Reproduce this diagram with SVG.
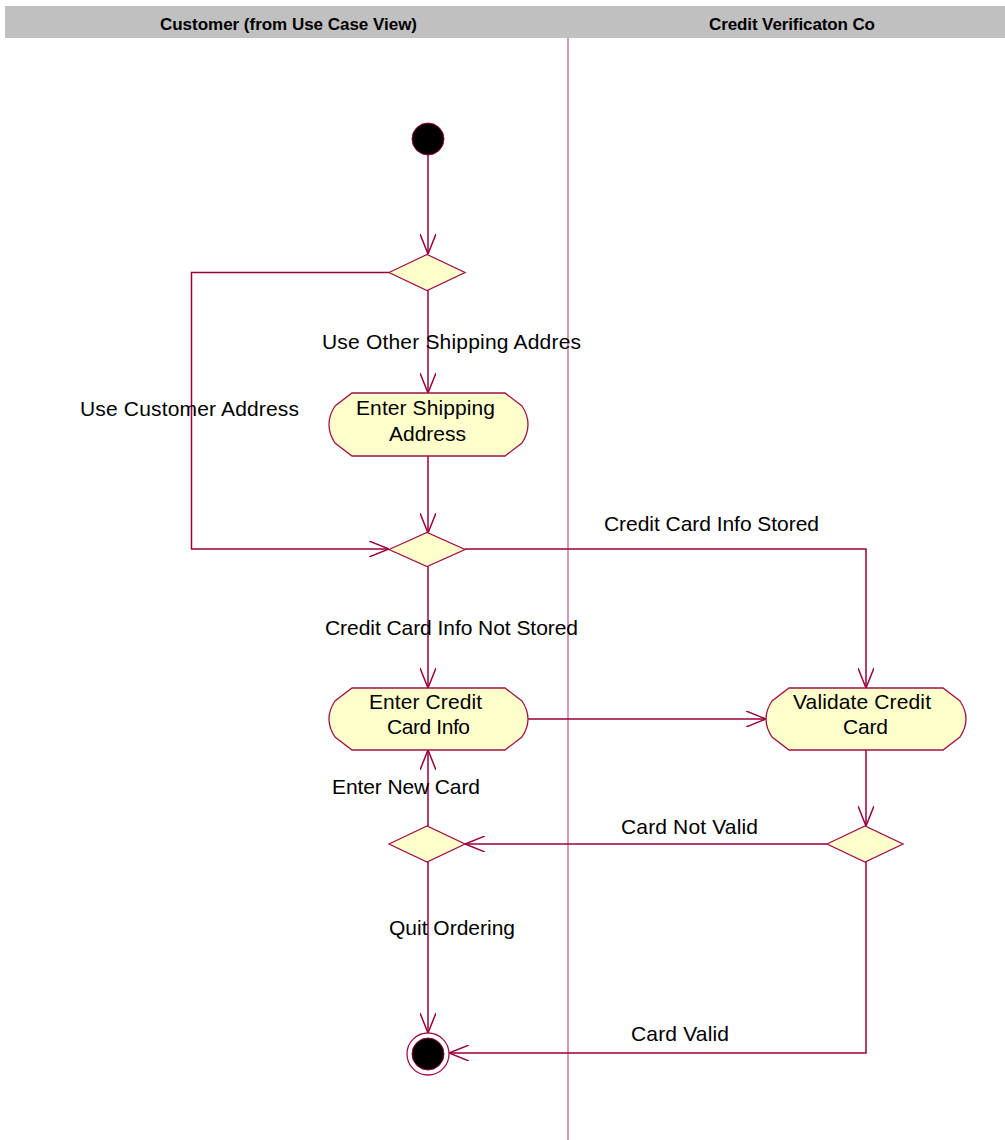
<svg xmlns="http://www.w3.org/2000/svg" width="1005" height="1140" viewBox="0 0 1005 1140">
  <style>
    .lane { fill: #c0c0c0; }
    .laneTitle { font-family: "Liberation Sans", Arial, sans-serif; font-weight: bold; font-size: 17px; fill: #000; }
    .divider { stroke: #cc7799; stroke-width: 1.5; fill: none; }
    .flow { stroke: #99003a; stroke-width: 1.5; fill: none; }
    .node { fill: #ffffcc; stroke: #a0104a; stroke-width: 1.3; }
    .label { font-family: "Liberation Sans", Arial, sans-serif; font-size: 21px; fill: #000; }
  </style>
  <defs>
    <marker id="open" viewBox="0 0 20 16" refX="20" refY="8" markerWidth="20" markerHeight="16" markerUnits="userSpaceOnUse" orient="auto">
      <path d="M0,0 L20,8 L0,16" fill="none" stroke="#99003a" stroke-width="1.5"/>
    </marker>
  </defs>

  <rect width="1005" height="1140" fill="#ffffff"/>

  <!-- swimlane headers -->
  <g id="lanes">
    <rect class="lane" x="5" y="6" width="1000" height="32"/>
    <text class="laneTitle" x="160" y="30" textLength="257" lengthAdjust="spacing">Customer (from Use Case View)</text>
    <text class="laneTitle" x="709" y="30" textLength="166" lengthAdjust="spacing">Credit Verificaton Co</text>
    <line class="divider" x1="568" y1="38" x2="568" y2="1140"/>
  </g>

  <!-- transitions -->
  <g id="connectors">
    <path class="flow" d="M428,155 V254" marker-end="url(#open)"/>
    <path class="flow" d="M428,290 V393" marker-end="url(#open)"/>
    <path class="flow" d="M428,456 V533" marker-end="url(#open)"/>
    <path class="flow" d="M389,272.5 H191.5 V549 H389" marker-end="url(#open)"/>
    <path class="flow" d="M465,549 H866 V688" marker-end="url(#open)"/>
    <path class="flow" d="M428,566 V688" marker-end="url(#open)"/>
    <path class="flow" d="M528,719 H766" marker-end="url(#open)"/>
    <path class="flow" d="M866,750 V826" marker-end="url(#open)"/>
    <path class="flow" d="M827,844 H465" marker-end="url(#open)"/>
    <path class="flow" d="M428,826 V750" marker-end="url(#open)"/>
    <path class="flow" d="M428,862 V1033" marker-end="url(#open)"/>
    <path class="flow" d="M866,862 V1053 H449" marker-end="url(#open)"/>

    <text class="label" x="80" y="416" textLength="219" lengthAdjust="spacing">Use Customer Address</text>
    <text class="label" x="322" y="349" textLength="259" lengthAdjust="spacing">Use Other Shipping Addres</text>
    <text class="label" x="604" y="531" textLength="215" lengthAdjust="spacing">Credit Card Info Stored</text>
    <text class="label" x="325" y="635" textLength="253" lengthAdjust="spacing">Credit Card Info Not Stored</text>
    <text class="label" x="332" y="794" textLength="148" lengthAdjust="spacing">Enter New Card</text>
    <text class="label" x="621" y="834" textLength="137" lengthAdjust="spacing">Card Not Valid</text>
    <text class="label" x="389" y="935" textLength="126" lengthAdjust="spacing">Quit Ordering</text>
    <text class="label" x="631" y="1041" textLength="98" lengthAdjust="spacing">Card Valid</text>
  </g>

  <!-- start -->
  <g id="start">
    <circle cx="428" cy="139" r="16" fill="#000" stroke="#99003a" stroke-width="1"/>
  </g>

  <!-- shipping address choice -->
  <g id="decision-address">
    <path class="node" d="M389,272.5 L427,254.5 L465,272.5 L427,290.5 Z"/>
  </g>

  <g id="enter-shipping-address">
    <path class="node" d="M352,393 H505 L522,406 Q528,415 528,424.5 Q528,434 522,443 L505,456 H352 L335,443 Q329,434 329,424.5 Q329,415 335,406 Z"/>
    <text class="label" x="356" y="415" textLength="139" lengthAdjust="spacing">Enter Shipping</text>
    <text class="label" x="389" y="441" textLength="77" lengthAdjust="spacing">Address</text>
  </g>

  <!-- card info stored? -->
  <g id="decision-card-stored">
    <path class="node" d="M389,549.5 L427,532.5 L465,549.5 L427,566.5 Z"/>
  </g>

  <g id="enter-credit-card-info">
    <path class="node" d="M352,688 H505 L522,701 Q528,710 528,719 Q528,728 522,737 L505,750 H352 L335,737 Q329,728 329,719 Q329,710 335,701 Z"/>
    <text class="label" x="369" y="709" textLength="113" lengthAdjust="spacing">Enter Credit</text>
    <text class="label" x="387" y="734" textLength="83" lengthAdjust="spacing">Card Info</text>
  </g>

  <g id="validate-credit-card">
    <path class="node" d="M789,688 H943 L960,701 Q966,710 966,719 Q966,728 960,737 L943,750 H789 L772,737 Q766,728 766,719 Q766,710 772,701 Z"/>
    <text class="label" x="793" y="709" textLength="138" lengthAdjust="spacing">Validate Credit</text>
    <text class="label" x="843" y="734" textLength="45" lengthAdjust="spacing">Card</text>
  </g>

  <!-- card valid? -->
  <g id="decision-card-valid">
    <path class="node" d="M827,844 L865,826 L903,844 L865,862 Z"/>
  </g>

  <!-- retry or quit -->
  <g id="decision-retry">
    <path class="node" d="M389,844 L427,826 L465,844 L427,862 Z"/>
  </g>

  <!-- end -->
  <g id="end">
    <circle cx="428" cy="1054" r="21" fill="#ffffff" stroke="#a0104a" stroke-width="1.3"/>
    <circle cx="428" cy="1054" r="16" fill="#000" stroke="#99003a" stroke-width="1"/>
  </g>
</svg>
